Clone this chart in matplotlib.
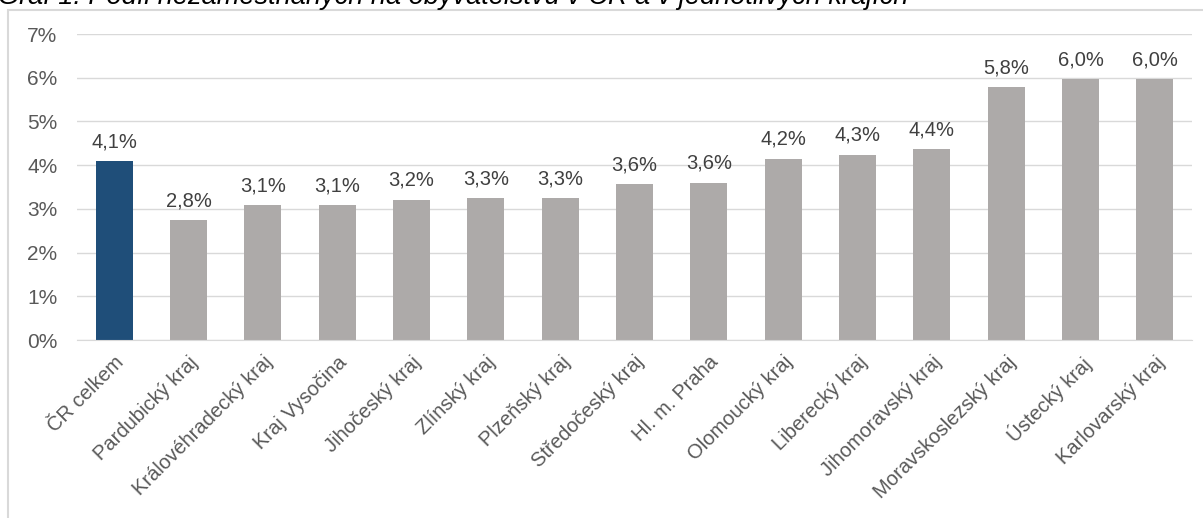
import matplotlib
matplotlib.use("Agg")
from matplotlib import pyplot as plt
from matplotlib.patches import Rectangle

# data
kraje = ["ČR celkem", "Pardubický kraj", "Královéhradecký kraj", "Kraj Vysočina",
         "Jihočeský kraj", "Zlínský kraj", "Plzeňský kraj", "Středočeský kraj",
         "Hl. m. Praha", "Olomoucký kraj", "Liberecký kraj", "Jihomoravský kraj",
         "Moravskoslezský kraj", "Ústecký kraj", "Karlovarský kraj"]
podil = [4.09, 2.75, 3.09, 3.09, 3.21, 3.25, 3.25, 3.57, 3.60, 4.15, 4.24, 4.36, 5.78, 5.96, 5.96]
popisky = ["4,1%", "2,8%", "3,1%", "3,1%", "3,2%", "3,3%", "3,3%", "3,6%", "3,6%",
           "4,2%", "4,3%", "4,4%", "5,8%", "6,0%", "6,0%"]
y_ticks = [0, 1, 2, 3, 4, 5, 6, 7]
y_labels = ["0%", "1%", "2%", "3%", "4%", "5%", "6%", "7%"]
nadpis = "Graf 1: Podíl nezaměstnaných na obyvatelstvu v ČR a v jednotlivých krajích"

plt.rcParams['font.family'] = ['Liberation Sans', 'DejaVu Sans']

W, H = 1203, 518
fig = plt.figure(figsize=(W / 100, H / 100), dpi=100)
ax = fig.add_axes([77 / W, (H - 340) / H, (1192 - 77) / W, (340 - 34) / H])

barvy = ["#1F4E79"] + ["#ADAAA9"] * (len(kraje) - 1)
x = list(range(len(kraje)))
ax.bar(x, podil, width=0.5, color=barvy, zorder=3)

for i, v in enumerate(podil):
    ax.annotate(popisky[i], (i, v), xytext=(0, 7), textcoords="offset points",
                ha="center", va="bottom", fontsize=14.5, color="#404040")

ax.set_xlim(-0.5, len(kraje) - 0.5)
ax.set_ylim(0, 7)
ax.set_yticks(y_ticks)
ax.set_yticklabels(y_labels, fontsize=15, color="#595959")
ax.set_xticks(x)
ax.set_xticklabels(kraje, rotation=45, ha="right", va="top", rotation_mode="anchor",
                   fontsize=14.5, color="#595959")
ax.tick_params(axis="both", length=0)
ax.tick_params(axis="y", pad=14)
ax.tick_params(axis="x", pad=9)
ax.grid(axis="y", color="#D9D9D9", linewidth=1, zorder=0)
for s in ["top", "right", "left"]:
    ax.spines[s].set_visible(False)
ax.spines["bottom"].set_color("#D9D9D9")
ax.spines["bottom"].set_zorder(4)

# frame around the chart
fig.patches.append(Rectangle((8 / W, -0.1), 1.2, (H - 10) / H + 0.1, transform=fig.transFigure,
                             fill=False, edgecolor="#D9D9D9", linewidth=1.5))

# title, cut at the top edge
fig.text(-2 / W, (H - 4) / H, nadpis, fontsize=19.5, style="italic", color="black",
         ha="left", va="baseline")

fig.savefig("out.png", dpi=100)
